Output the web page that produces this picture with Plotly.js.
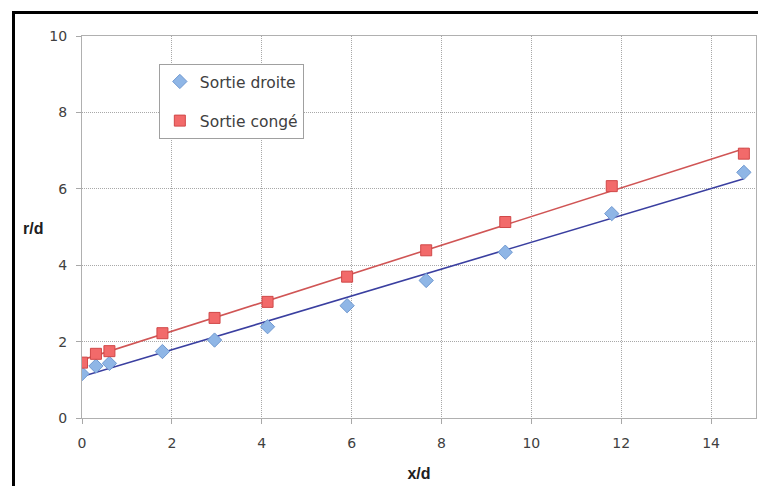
<!DOCTYPE html>
<html>
<head>
<meta charset="utf-8">
<script src="https://cdn.plot.ly/plotly-3.0.1.min.js"></script>
<style>
html,body{margin:0;padding:0;background:#fff;overflow:hidden;}
#wrap{position:relative;width:758px;height:486px;overflow:hidden;}
#chart{width:758px;height:486px;}
.bar{position:absolute;background:#000;pointer-events:none;}
#ftop{left:12px;top:11px;width:746px;height:3px;}
#fleft{left:12px;top:11px;width:3px;height:475px;}
</style>
</head>
<body>
<div id="wrap"><div id="chart"></div><div id="ftop" class="bar"></div><div id="fleft" class="bar"></div></div>
<script>
// Data
const xDroite = [0.0, 0.31, 0.61, 1.79, 2.95, 4.13, 5.90, 7.66, 9.42, 11.79, 14.73];
const yDroite = [1.16, 1.36, 1.43, 1.74, 2.04, 2.39, 2.94, 3.60, 4.34, 5.35, 6.43];
const xConge = [0.0, 0.31, 0.61, 1.79, 2.95, 4.13, 5.90, 7.66, 9.42, 11.79, 14.73];
const yConge = [1.45, 1.68, 1.75, 2.22, 2.62, 3.04, 3.70, 4.39, 5.13, 6.07, 6.92];
const seriesNames = ["Sortie droite", "Sortie congé"];
const xTicks = [0, 2, 4, 6, 8, 10, 12, 14];
const yTicks = [0, 2, 4, 6, 8, 10];

function linFit(xs, ys) {
  const n = xs.length;
  const mx = xs.reduce((a, b) => a + b, 0) / n;
  const my = ys.reduce((a, b) => a + b, 0) / n;
  let sxy = 0, sxx = 0;
  for (let i = 0; i < n; i++) { sxy += (xs[i] - mx) * (ys[i] - my); sxx += (xs[i] - mx) ** 2; }
  const b = sxy / sxx, a = my - b * mx;
  const x0 = Math.min(...xs), x1 = Math.max(...xs);
  return { x: [x0, x1], y: [a + b * x0, a + b * x1] };
}
const fitD = linFit(xDroite, yDroite);
const fitC = linFit(xConge, yConge);

const font = "'DejaVu Sans', sans-serif";
const boldFont = "'Liberation Sans', Arial, sans-serif";

const traces = [
  { x: fitD.x, y: fitD.y, mode: "lines", line: { color: "#3a3fa0", width: 1.6 }, showlegend: false, hoverinfo: "skip" },
  { x: fitC.x, y: fitC.y, mode: "lines", line: { color: "#d05555", width: 1.6 }, showlegend: false, hoverinfo: "skip" },
  { x: xDroite, y: yDroite, mode: "markers", name: seriesNames[0], legendgroup: "a",
    marker: { symbol: "diamond", size: 11, color: "#8fb6e6", line: { color: "#6f98d0", width: 1 } } },
  { x: xConge, y: yConge, mode: "markers", name: seriesNames[1], legendgroup: "b",
    marker: { symbol: "square", size: 11, color: "#f26a6a", line: { color: "#d04848", width: 1 } } }
];

const layout = {
  width: 758, height: 486,
  margin: { l: 82, r: 2, t: 36, b: 68 },
  paper_bgcolor: "#ffffff", plot_bgcolor: "#ffffff",
  font: { family: font, color: "#404040", size: 13 },
  showlegend: true,
  legend: {
    x: 0.114, y: 0.927, xanchor: "left", yanchor: "top",
    bgcolor: "#ffffff", bordercolor: "#a0a0a0", borderwidth: 1,
    font: { family: font, size: 15.5, color: "#404040" },
    tracegroupgap: 16, traceorder: "grouped", itemwidth: 30
  },
  xaxis: {
    range: [0, 15], tickvals: xTicks, ticktext: xTicks.map(String),
    showgrid: true, gridcolor: "#a8a8a8", griddash: "1px,1px", gridwidth: 1,
    showline: true, linecolor: "#b0b0b0", linewidth: 1, mirror: true,
    ticks: "outside", ticklen: 5, tickcolor: "#a8a8a8", ticklabelstandoff: 7,
    zeroline: false, tickfont: { size: 14, color: "#404040" },
    title: { text: "<b>x/d</b>", font: { family: boldFont, size: 16, color: "#202020" }, standoff: 18 }
  },
  yaxis: {
    range: [0, 10], tickvals: yTicks, ticktext: yTicks.map(String),
    showgrid: true, gridcolor: "#a8a8a8", griddash: "1px,1px", gridwidth: 1,
    showline: true, linecolor: "#b0b0b0", linewidth: 1, mirror: true,
    ticks: "outside", ticklen: 5, tickcolor: "#a8a8a8", ticklabelstandoff: 6,
    zeroline: false, tickfont: { size: 14, color: "#404040" }
  },
  annotations: [
    { text: "<b>r/d</b>", xref: "paper", yref: "paper", x: -0.072, y: 0.497,
      xanchor: "center", yanchor: "middle", showarrow: false,
      font: { family: boldFont, size: 16, color: "#202020" } }
  ]
};

Plotly.newPlot("chart", traces, layout, { displayModeBar: false, staticPlot: true });
</script>
</body>
</html>
